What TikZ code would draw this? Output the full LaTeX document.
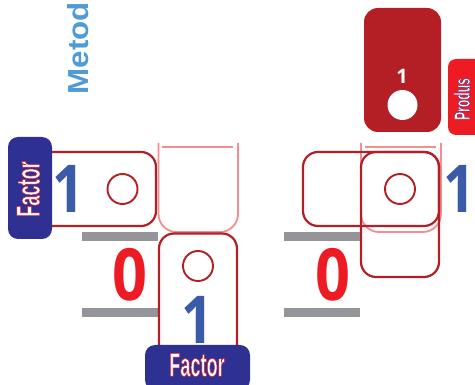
\documentclass[tikz,border=0pt]{standalone}
\usepackage{fontspec}
\setmainfont{Liberation Sans}
\newfontfamily\labelfont[FakeStretch=0.55,FakeBold=1.5,BoldFont={Liberation Sans}]{Liberation Sans Bold}
\newfontfamily\numfont{Open Sans}
\newfontfamily\bignumfont[FakeStretch=0.85]{Open Sans}
\newfontfamily\zerofont[FakeStretch=0.9,FakeBold=0.6]{Open Sans}
\newfontfamily\metfont[FakeStretch=1.08]{Liberation Sans}
\definecolor{dkred}{HTML}{B31F24}
\definecolor{pinkl}{HTML}{F48D92}
\definecolor{brred}{HTML}{ED1C24}
\definecolor{navy}{HTML}{2E3192}
\definecolor{numblue}{HTML}{3B5BA9}
\definecolor{metblue}{HTML}{4F9BD5}
\definecolor{bar}{HTML}{939598}
\tikzset{
  x=1pt,y=-1pt,
  cell/.style={draw=dkred,line width=2.2pt,rounded corners=15pt},
  pinku/.style={draw=pinkl,line width=1.8pt},
  ring/.style={draw=dkred,line width=1.9pt,fill=white,circle,minimum size=30pt,inner sep=0pt},
  barrect/.style={fill=bar},
  bignum/.style={text=numblue,font=\bignumfont\fontsize{66}{66}\selectfont\bfseries,inner sep=0pt},
  zero/.style={text=brred,font=\bignumfont\fontsize{72}{72}\selectfont\bfseries,inner sep=0pt},
  tagtext/.style={inner sep=0pt}
}
\newcommand{\outlined}[2]{\special{pdf:code #1 RG}#2}
\begin{document}
\begin{tikzpicture}
\useasboundingbox (0,0) rectangle (475,385);
\clip (0,0) rectangle (475,385);
\node[rotate=90,text=metblue,font=\metfont\fontsize{29}{29}\selectfont\bfseries,inner sep=0pt] (metod) at (78.5,48) {Metod};
% left group
\draw[pinku,rounded corners=18pt] (158.5,143) -- (158.5,232) -- (238,232) -- (238,143);
\draw[pinku,line width=1.5pt] (162,147) -- (233,147);
\draw[cell] (30,152) rectangle (156,226);
\fill[barrect] (82,232) rectangle (158,241);
\fill[barrect] (82,308) rectangle (158,317);
\node[ring] (c1) at (122.5,189) {};
\node[zero] (z1) at (130,275) {0};
\draw[cell] (159,233.5) rectangle (237,370);
\node[ring] (c2) at (198,266) {};
\node[bignum] (n2) at (197.5,320) {1};
\node[bignum] (n1) at (68.5,188.5) {1};
\fill[navy,rounded corners=10pt] (8,137) rectangle (52,239);
\node[tagtext,rotate=90,text=white,font=\labelfont\fontsize{33}{33}\selectfont] (f1) at (28.5,189) {\outlined{0.93 0.11 0.14}{Factor}};
\fill[navy,rounded corners=10pt] (145,345) rectangle (250,390);
\node[tagtext,text=white,font=\labelfont\fontsize{33}{33}\selectfont] (f2) at (197,365) {\outlined{0.93 0.11 0.14}{Factor}};
% right group
\fill[dkred,rounded corners=14pt] (364,8) rectangle (441,132);
\node[text=white,font=\numfont\fontsize{20}{20}\selectfont\bfseries,inner sep=0pt] (p1) at (402,76) {1};
\node[circle,fill=white,minimum size=30pt,inner sep=0pt] (pc) at (402.5,105) {};
\fill[brred,rounded corners=8pt] (448,59) rectangle (490,135);
\node[tagtext,rotate=90,text=white,font=\labelfont\fontsize{22}{22}\selectfont] (pr) at (462,99) {\outlined{0.18 0.19 0.57}{Produs}};
\draw[pinku,rounded corners=18pt] (361,143) -- (361,232) -- (441,232) -- (441,143);
\draw[pinku,line width=1.5pt] (365,147) -- (436,147);
\draw[cell] (303,152) rectangle (439,226);
\draw[cell] (361,152) rectangle (439,277);
\node[ring,fill=none] (c3) at (400,189) {};
\node[bignum] (n3) at (459.5,188.5) {1};
\fill[barrect] (284,232) rectangle (360,241);
\fill[barrect] (284,308) rectangle (360,317);
\node[zero] (z2) at (333,275) {0};
\end{tikzpicture}
\end{document}
